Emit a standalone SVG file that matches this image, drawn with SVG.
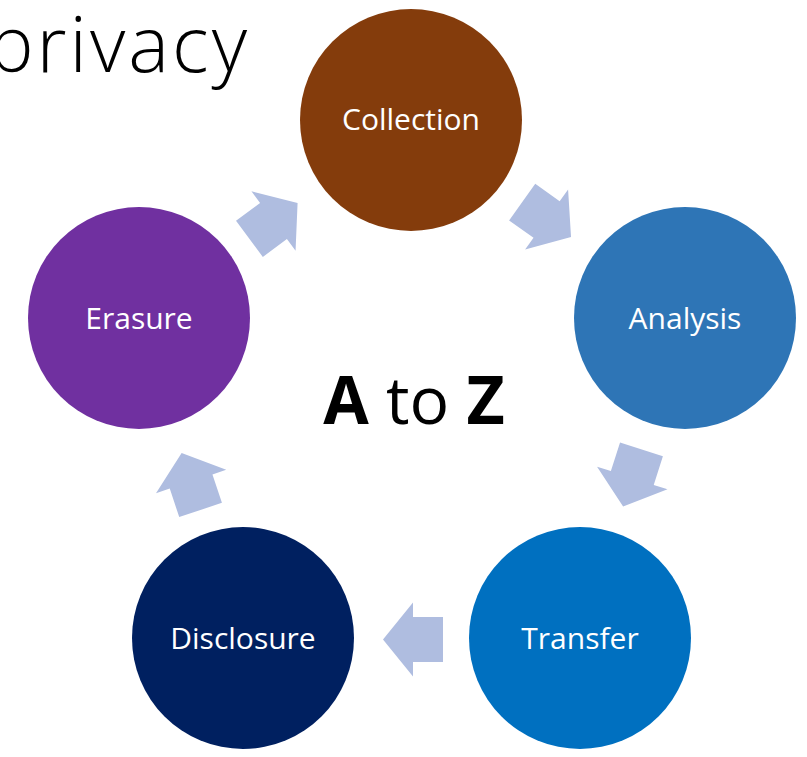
<svg xmlns="http://www.w3.org/2000/svg" width="807" height="757" viewBox="0 0 807 757">
<defs>
<polygon id="arr" points="-30,-22.5 0,-22.5 0,-37 30,0 0,37 0,22.5 -30,22.5"/>
</defs>
<style>
.lbl{font-family:"Open Sans","Noto Sans","Liberation Sans",sans-serif;font-size:30px;fill:#fff;text-anchor:middle}
.arrow{fill:#AFBDE0}
</style>
<rect width="807" height="757" fill="#fff"/>
<text x="250" y="72" font-family="'Open Sans','Noto Sans','Liberation Sans',sans-serif" font-weight="300" font-size="77" letter-spacing="3" text-anchor="end" fill="#000">privacy</text>
<g id="connectors">
<use href="#arr" class="arrow" transform="translate(546.6,219.5) rotate(35.5)"/>
<use href="#arr" class="arrow" transform="translate(632.3,478) rotate(107.8)"/>
<use href="#arr" class="arrow" transform="translate(413,639.5) rotate(180)"/>
<use href="#arr" class="arrow" transform="translate(191.1,481.5) rotate(-108.4)"/>
<use href="#arr" class="arrow" transform="translate(273.5,221) rotate(-36.6)"/>
</g>
<g id="collection"><circle cx="411" cy="120" r="111" fill="#843C0C"/><text class="lbl" x="411" y="130">Collection</text></g>
<g id="analysis"><circle cx="685" cy="318" r="111" fill="#2E75B6"/><text class="lbl" x="685" y="329">Analysis</text></g>
<g id="transfer"><circle cx="580" cy="638" r="111" fill="#0070C0"/><text class="lbl" x="580" y="649">Transfer</text></g>
<g id="disclosure"><circle cx="243" cy="638" r="111" fill="#002060"/><text class="lbl" x="243" y="649">Disclosure</text></g>
<g id="erasure"><circle cx="139" cy="318" r="111" fill="#7030A0"/><text class="lbl" x="139" y="329">Erasure</text></g>
<text x="414" y="424" font-family="'Open Sans','Noto Sans','Liberation Sans',sans-serif" font-size="66" text-anchor="middle" fill="#000"><tspan font-weight="bold">A</tspan> to <tspan font-weight="bold">Z</tspan></text>
</svg>
